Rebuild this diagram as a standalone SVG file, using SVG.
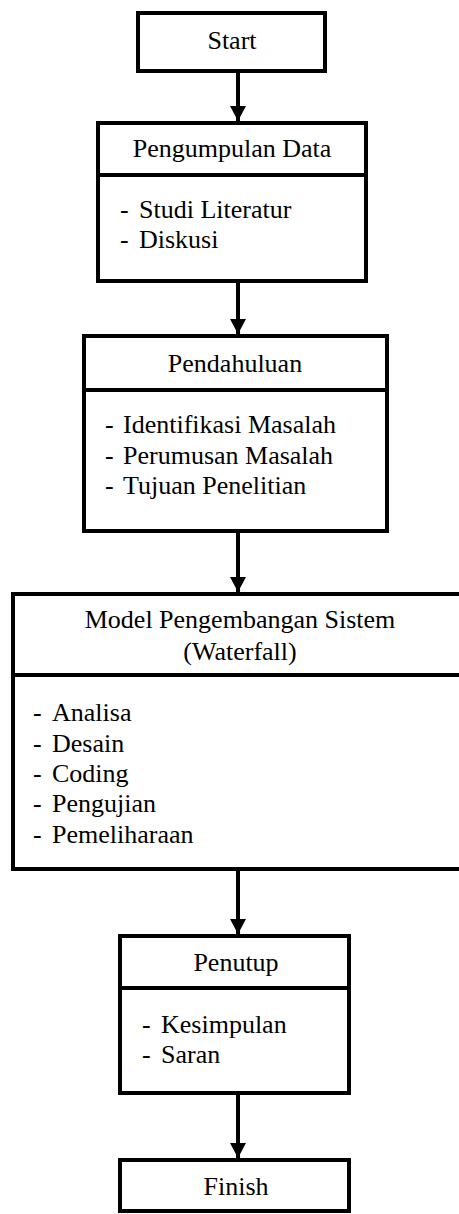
<svg xmlns="http://www.w3.org/2000/svg" width="459" height="1214" viewBox="0 0 459 1214">
<style>
.box{fill:#fff;stroke:#000;stroke-width:4}
.div{stroke:#000;stroke-width:4}
.t{font-family:'Times New Roman','Liberation Serif',Times,'Nimbus Roman','DejaVu Serif',serif;font-size:26px;fill:#000}
.c{text-anchor:middle}
.conn{stroke:#000;stroke-width:4;fill:none}
</style>
<defs>
<marker id="ah" markerUnits="userSpaceOnUse" markerWidth="18" markerHeight="16" refX="15" refY="8" orient="auto">
<path d="M0,0 L15,8 L0,16 Z" fill="#000"/>
</marker>
</defs>
<rect x="0" y="0" width="459" height="1214" fill="#fff"/>
<g id="connectors">
<line class="conn" x1="238" y1="73" x2="238" y2="121" marker-end="url(#ah)"/>
<line class="conn" x1="238" y1="283" x2="238" y2="334" marker-end="url(#ah)"/>
<line class="conn" x1="238" y1="533" x2="238" y2="592" marker-end="url(#ah)"/>
<line class="conn" x1="238" y1="871" x2="238" y2="934" marker-end="url(#ah)"/>
<line class="conn" x1="238" y1="1095" x2="238" y2="1158" marker-end="url(#ah)"/>
</g>
<g id="start">
<rect class="box" x="138" y="13" width="187" height="58"/>
<text class="t c" x="232" y="49">Start</text>
</g>
<g id="pengumpulan">
<rect class="box" x="98" y="123" width="268" height="158"/>
<line class="div" x1="98" y1="175" x2="366" y2="175"/>
<text class="t c" x="232" y="157">Pengumpulan Data</text>
<text class="t" x="120" y="218">-<tspan x="139">Studi Literatur</tspan></text>
<text class="t" x="120" y="248">-<tspan x="139">Diskusi</tspan></text>
</g>
<g id="pendahuluan">
<rect class="box" x="84" y="336" width="303" height="195"/>
<line class="div" x1="84" y1="390" x2="387" y2="390"/>
<text class="t c" x="235" y="372">Pendahuluan</text>
<text class="t" x="105" y="433">-<tspan x="123">Identifikasi Masalah</tspan></text>
<text class="t" x="105" y="464">-<tspan x="123">Perumusan Masalah</tspan></text>
<text class="t" x="105" y="494">-<tspan x="123">Tujuan Penelitian</tspan></text>
</g>
<g id="model">
<rect class="box" x="13" y="594" width="454" height="275"/>
<line class="div" x1="13" y1="675" x2="467" y2="675"/>
<text class="t c" x="240" y="628">Model Pengembangan Sistem</text>
<text class="t c" x="240" y="660">(Waterfall)</text>
<text class="t" x="33" y="721">-<tspan x="52">Analisa</tspan></text>
<text class="t" x="33" y="752">-<tspan x="52">Desain</tspan></text>
<text class="t" x="33" y="782">-<tspan x="52">Coding</tspan></text>
<text class="t" x="33" y="812">-<tspan x="52">Pengujian</tspan></text>
<text class="t" x="33" y="843">-<tspan x="52">Pemeliharaan</tspan></text>
</g>
<g id="penutup">
<rect class="box" x="120" y="936" width="229" height="157"/>
<line class="div" x1="120" y1="988" x2="349" y2="988"/>
<text class="t c" x="236" y="971">Penutup</text>
<text class="t" x="142" y="1033">-<tspan x="161">Kesimpulan</tspan></text>
<text class="t" x="142" y="1063">-<tspan x="161">Saran</tspan></text>
</g>
<g id="finish">
<rect class="box" x="120" y="1160" width="229" height="51"/>
<text class="t c" x="236" y="1195">Finish</text>
</g>
</svg>
